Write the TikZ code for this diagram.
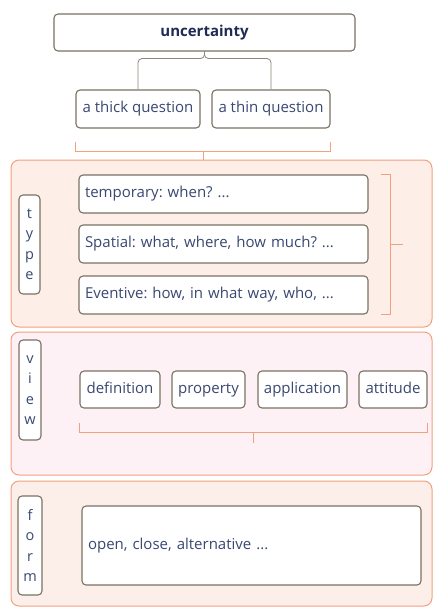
\documentclass[tikz,border=0pt]{standalone}
\usepackage{fontspec}
\setmainfont{Open Sans}
\frenchspacing
\usetikzlibrary{positioning,calc}
\definecolor{boxline}{HTML}{7A7262}
\definecolor{linkline}{HTML}{8C8578}
\definecolor{txt}{HTML}{3A4872}
\definecolor{titletxt}{HTML}{1F2B55}
\definecolor{frame}{HTML}{F2A07E}
\definecolor{typefill}{HTML}{FDEEE8}
\definecolor{viewfill}{HTML}{FEF1F6}
\definecolor{formfill}{HTML}{FCEFEA}
\begin{document}
\begin{tikzpicture}[x=1pt,y=-1pt]
			\tikzset{plainbox/.style={draw=boxline, line width=1.1pt, fill=white,
						rounded corners=4pt, text=txt, inner sep=0pt}}
			\tikzset{topic/.style={plainbox, text height=11pt, text depth=3.5pt,
						font=\fontsize{15}{17}\selectfont}}
			\tikzset{leftbox/.style={topic, align=left, inner xsep=6pt}}
			\tikzset{letters/.style={plainbox, align=center,
						font=\fontsize{14.5}{20.5}\selectfont}}
			\tikzset{group/.style={draw=frame, line width=1pt, rounded corners=8pt}}
			\tikzset{brak/.style={draw=frame, line width=1pt}}
			\tikzset{link/.style={draw=linkline, line width=0.8pt, rounded corners=4pt}}

				\useasboundingbox (0,0) rectangle (433,608);

				% containers
				\node[group, fill=typefill, minimum width=421, minimum height=167] (typegrp) at (221.5,243.5) {};
				\node[group, fill=viewfill, minimum width=421, minimum height=143] (viewgrp) at (221.5,403.5) {};
				\node[group, fill=formfill, minimum width=421, minimum height=125] (formgrp) at (221.5,543.5) {};

				% top
				\node[topic, minimum width=301, minimum height=37, text=titletxt,
					font=\fontsize{15}{17}\selectfont\bfseries] (unc) at (204.5,32.5) {uncertainty};
				\node[topic, minimum width=124, minimum height=38] (thick) at (138,109) {a thick question};
				\node[topic, minimum width=118, minimum height=38] (thin) at (271,109) {a thin question};

				\draw[link] (unc.south) -- ++(0,7) -| (thick.north);
				\draw[link] (unc.south) -- ++(0,7) -| (thin.north);

				\draw[brak] ([yshift=-13pt]thick.south west) -- ([yshift=-23pt]thick.south west)
					-- ([yshift=-23pt]thin.south east) -- ([yshift=-13pt]thin.south east);
				\coordinate (qmid) at ($([yshift=-23pt]thick.south west)!0.5!([yshift=-23pt]thin.south east)$);
				\draw[brak] (qmid) -- (qmid |- typegrp.north);

				% type
				\node[letters, minimum width=21, minimum height=99] (typelbl) at (29.5,244.5) {t\\y\\p\\e};
				\node[leftbox, text width=277pt, minimum height=38] (temporary) at (223.5,194) {temporary: when? ...};
				\node[leftbox, text width=277pt, minimum height=38] (spatial) at (223.5,244) {Spatial: what, where, how much? ...};
				\node[leftbox, text width=277pt, minimum height=38] (eventive) at (223.5,295) {Eventive: how, in what way, who, ...};

				\draw[brak] ([xshift=12pt]temporary.north east) -- ([xshift=22pt]temporary.north east)
					-- ([xshift=22pt]eventive.south east) -- ([xshift=12pt]eventive.south east);
				\draw[brak] ([xshift=22pt]spatial.east) -- ([xshift=34pt]spatial.east);

				% view
				\node[letters, minimum width=22, minimum height=100] (viewlbl) at (30,390) {v\\i\\e\\w};
				\node[topic, minimum width=80, minimum height=37] (definition) at (120,389.5) {definition};
				\node[topic, minimum width=73, minimum height=37] (property) at (208.5,389.5) {property};
				\node[topic, minimum width=89, minimum height=37] (application) at (302.5,389.5) {application};
				\node[topic, minimum width=68, minimum height=37] (attitude) at (393,389.5) {attitude};

				\draw[brak] ([yshift=-14pt]definition.south west) -- ([yshift=-24pt]definition.south west)
					-- ([yshift=-24pt]attitude.south east) -- ([yshift=-14pt]attitude.south east);
				\coordinate (vmid) at ($([yshift=-24pt]definition.south west)!0.5!([yshift=-24pt]attitude.south east)$);
				\draw[brak] (vmid) -- ++(0,10);

				% form
				\node[letters, minimum width=24, minimum height=99] (formlbl) at (30,545.5) {f\\o\\r\\m};
				\node[leftbox, text width=327pt, minimum height=79] (open) at (251.5,545.5) {open, close, alternative ...};
		\end{tikzpicture}
\end{document}
